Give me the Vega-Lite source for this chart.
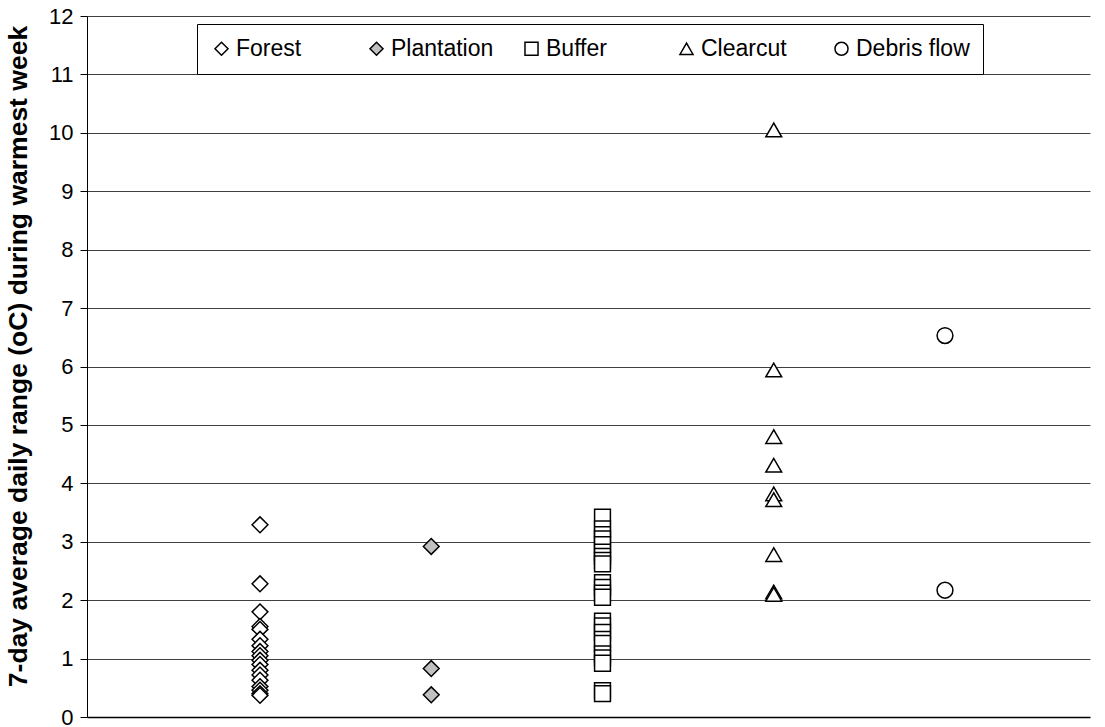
{
  "$schema": "https://vega.github.io/schema/vega-lite/v6.json",
  "width": 1003,
  "height": 701,
  "autosize": {"type": "none"},
  "padding": {"left": 87, "top": 16, "right": 15, "bottom": 10},
  "background": "white",
  "config": {
    "font": "Liberation Sans",
    "view": {"stroke": null}
  },
  "data": {
    "values": [
      {"site": "Forest", "range": 3.29},
      {"site": "Forest", "range": 2.28},
      {"site": "Forest", "range": 1.8},
      {"site": "Forest", "range": 1.55},
      {"site": "Forest", "range": 1.5},
      {"site": "Forest", "range": 1.33},
      {"site": "Forest", "range": 1.22},
      {"site": "Forest", "range": 1.12},
      {"site": "Forest", "range": 1.05},
      {"site": "Forest", "range": 0.97},
      {"site": "Forest", "range": 0.9},
      {"site": "Forest", "range": 0.8},
      {"site": "Forest", "range": 0.72},
      {"site": "Forest", "range": 0.63},
      {"site": "Forest", "range": 0.52},
      {"site": "Forest", "range": 0.46},
      {"site": "Forest", "range": 0.4},
      {"site": "Forest", "range": 0.37},
      {"site": "Plantation", "range": 2.92},
      {"site": "Plantation", "range": 0.83},
      {"site": "Plantation", "range": 0.38},
      {"site": "Buffer", "range": 3.42},
      {"site": "Buffer", "range": 3.22},
      {"site": "Buffer", "range": 3.12},
      {"site": "Buffer", "range": 3.05},
      {"site": "Buffer", "range": 2.95},
      {"site": "Buffer", "range": 2.82},
      {"site": "Buffer", "range": 2.75},
      {"site": "Buffer", "range": 2.68},
      {"site": "Buffer", "range": 2.62},
      {"site": "Buffer", "range": 2.3},
      {"site": "Buffer", "range": 2.22},
      {"site": "Buffer", "range": 2.12},
      {"site": "Buffer", "range": 2.05},
      {"site": "Buffer", "range": 1.64},
      {"site": "Buffer", "range": 1.56},
      {"site": "Buffer", "range": 1.45},
      {"site": "Buffer", "range": 1.33},
      {"site": "Buffer", "range": 1.26},
      {"site": "Buffer", "range": 1.08},
      {"site": "Buffer", "range": 1.01},
      {"site": "Buffer", "range": 0.92},
      {"site": "Buffer", "range": 0.45},
      {"site": "Buffer", "range": 0.4},
      {"site": "Clearcut", "range": 10.05},
      {"site": "Clearcut", "range": 5.94},
      {"site": "Clearcut", "range": 4.8},
      {"site": "Clearcut", "range": 4.31},
      {"site": "Clearcut", "range": 3.82},
      {"site": "Clearcut", "range": 3.72},
      {"site": "Clearcut", "range": 2.78},
      {"site": "Clearcut", "range": 2.14},
      {"site": "Clearcut", "range": 2.1},
      {"site": "Debris flow", "range": 6.53},
      {"site": "Debris flow", "range": 2.17}
    ]
  },
  "mark": {"type": "point", "filled": false, "stroke": "black", "strokeWidth": 1.5, "opacity": 1},
  "encoding": {
    "x": {
      "field": "site",
      "type": "nominal",
      "sort": ["Forest", "Plantation", "Buffer", "Clearcut", "Debris flow"],
      "scale": {"type": "point", "padding": 0.9285, "align": 0.544},
      "axis": {
        "title": null,
        "labels": false,
        "ticks": false,
        "grid": false,
        "domain": true,
        "domainColor": "black",
        "domainWidth": 1.5
      }
    },
    "y": {
      "field": "range",
      "type": "quantitative",
      "scale": {"domain": [0, 12], "nice": false, "zero": true},
      "axis": {
        "title": "7-day average daily range (oC) during warmest week",
        "titleFont": "Liberation Sans",
        "titleFontSize": 26.5,
        "titleFontWeight": "bold",
        "titleColor": "black",
        "titleBaseline": "middle",
        "titleX": -69,
        "titleY": 340,
        "values": [0, 0.5, 1, 1.5, 2, 2.5, 3, 3.5, 4, 4.5, 5, 5.5, 6, 6.5, 7, 7.5, 8, 8.5, 9, 9.5, 10, 10.5, 11, 11.5, 12],
        "format": "d",
        "labelExpr": "datum.value % 1 === 0 ? datum.label : ''",
        "labelFont": "Liberation Sans",
        "labelFontSize": 22,
        "labelColor": "black",
        "labelPadding": 7,
        "tickSize": 7,
        "tickColor": "black",
        "domainColor": "black",
        "domainWidth": 1,
        "grid": true,
        "gridColor": "#404040",
        "gridWidth": 1,
        "gridOpacity": {"condition": {"test": "datum.value % 1 === 0 && datum.value > 0", "value": 1}, "value": 0}
      }
    },
    "shape": {
      "field": "site",
      "type": "nominal",
      "scale": {
        "domain": ["Forest", "Plantation", "Buffer", "Clearcut", "Debris flow"],
        "range": ["diamond", "diamond", "square", "triangle-up", "circle"]
      },
      "legend": {
        "title": null,
        "orient": "none",
        "legendX": 110,
        "legendY": 8,
        "direction": "horizontal",
        "columns": 5,
        "gridAlign": "all",
        "columnPadding": 15,
        "padding": 13,
        "strokeColor": "black",
        "fillColor": "white",
        "labelFont": "Liberation Sans",
        "labelFontSize": 23,
        "labelColor": "black",
        "labelOffset": 3,
        "symbolSize": 170,
        "encode": {
          "symbols": {
            "update": {
              "stroke": {"value": "black"},
              "strokeWidth": {"value": 1.3},
              "opacity": {"value": 1},
              "size": {"value": 170}
            }
          }
        }
      }
    },
    "fill": {
      "field": "site",
      "type": "nominal",
      "scale": {
        "domain": ["Forest", "Plantation", "Buffer", "Clearcut", "Debris flow"],
        "range": ["#ffffff", "#c0c0c0", "#ffffff", "#ffffff", "#ffffff"]
      },
      "legend": null
    },
    "size": {"value": 250}
  }
}
